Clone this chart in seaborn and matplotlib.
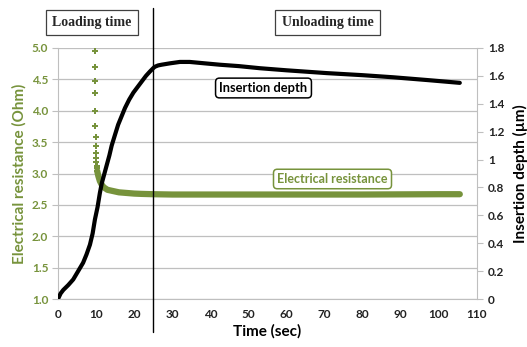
import matplotlib
matplotlib.use("Agg")
import matplotlib.pyplot as plt
import seaborn as sns
import pandas as pd

# Insertion depth (µm) versus time (s)
depth_time = [0, 0.7, 1.4, 2.7, 4.0, 5.3, 6.6, 7.5, 8.4, 9.1, 9.7, 10.4, 11.0, 11.5, 12.0,
              12.8, 13.5, 14.1, 15.0, 15.8, 16.7, 17.6, 18.7, 19.8, 20.9, 22.0, 23.1, 24.1,
              25.0, 25.4, 26.3, 27.2, 29.4, 32, 34.6, 38.5, 42.5, 47.5, 53, 60, 70.5, 80,
              88, 97, 105.5]
depth_um = [0, 0.04, 0.065, 0.10, 0.14, 0.20, 0.26, 0.32, 0.39, 0.47, 0.57, 0.66, 0.76, 0.83, 0.88,
            0.96, 1.03, 1.10, 1.18, 1.25, 1.31, 1.37, 1.43, 1.48, 1.52, 1.56, 1.60, 1.63,
            1.655, 1.665, 1.675, 1.68, 1.69, 1.70, 1.70, 1.69, 1.68, 1.67, 1.655, 1.64, 1.62, 1.605,
            1.59, 1.57, 1.55]

# Electrical resistance (Ohm): sparse early readings
res_pts_time = [9.6, 9.7, 9.75, 9.75, 9.8, 9.85, 9.9, 9.95, 10.0, 10.05, 10.1, 10.15, 10.2, 10.3]
res_pts_ohm = [4.95, 4.69, 4.47, 4.29, 4.00, 3.75, 3.58, 3.44, 3.32, 3.24, 3.18, 3.12, 3.08, 3.04]

# Electrical resistance (Ohm): continuous record
res_time = [10.3, 10.6, 11.0, 11.5, 12.0, 13.0, 14.5, 16, 18, 20, 22, 25, 30, 40, 60, 80, 100, 105.5]
res_ohm = [3.04, 2.96, 2.88, 2.82, 2.78, 2.74, 2.72, 2.70, 2.69, 2.68, 2.675, 2.67, 2.665,
           2.665, 2.665, 2.665, 2.67, 2.67]

x_ticks = list(range(0, 111, 10))
left_ticks = [1.0, 1.5, 2.0, 2.5, 3.0, 3.5, 4.0, 4.5, 5.0]
right_ticks = [0, 0.2, 0.4, 0.6, 0.8, 1, 1.2, 1.4, 1.6, 1.8]
right_labels = ["0", "0.2", "0.4", "0.6", "0.8", "1", "1.2", "1.4", "1.6", "1.8"]

GREEN = "#77933C"
GRID = "#BFBFBF"

sns.set_style("white")
plt.rcParams["font.family"] = ["Lato", "DejaVu Sans"]

fig = plt.figure(figsize=(5.27, 3.47), dpi=100)
ax = fig.add_axes([0.110, 0.1383, 0.795, 0.7234])
ax2 = ax.twinx()

# Resistance on the left axis
ax.set_xlim(0, 110)
ax.set_ylim(1.0, 5.0)
ax.set_yticks(left_ticks)
ax.set_yticklabels([f"{v:.1f}" for v in left_ticks])
ax.set_xticks(x_ticks)
ax.grid(axis="y", color=GRID, lw=0.9)
ax.set_axisbelow(True)

df_res = pd.DataFrame({"t": res_time, "r": res_ohm})
sns.lineplot(data=df_res, x="t", y="r", ax=ax, color=GREEN, lw=4.5, zorder=3)
df_pts = pd.DataFrame({"t": res_pts_time, "r": res_pts_ohm})
sns.scatterplot(data=df_pts, x="t", y="r", ax=ax, marker="P", s=13, color=GREEN,
                edgecolor=GREEN, linewidth=0, zorder=3)

# Depth on the right axis
ax2.set_ylim(0, 1.8)
ax2.set_yticks(right_ticks)
ax2.set_yticklabels(right_labels)
df_dep = pd.DataFrame({"t": depth_time, "d": depth_um})
sns.lineplot(data=df_dep, x="t", y="d", ax=ax2, color="black", lw=3, zorder=4)

for a in (ax, ax2):
    for s in ("top", "left", "right", "bottom"):
        a.spines[s].set_visible(False)
ax.spines["left"].set_visible(True)
ax.spines["left"].set_color(GRID)
ax.spines["bottom"].set_visible(True)
ax.spines["bottom"].set_color(GRID)
ax2.spines["right"].set_visible(True)
ax2.spines["right"].set_color(GRID)

ax.tick_params(axis="x", colors=GRID, length=4, width=0.8, direction="out", labelcolor="#222222",
               labelsize=8.5, pad=3)
ax.tick_params(axis="y", colors=GRID, length=4, width=0.8, direction="out", labelcolor=GREEN,
               labelsize=8.5, pad=3, left=True)
ax2.tick_params(axis="y", colors=GRID, length=4, width=0.8, direction="out", labelcolor="#222222",
                labelsize=8.5, pad=4, right=True)
for lab in ax.get_xticklabels() + ax.get_yticklabels() + ax2.get_yticklabels():
    lab.set_fontweight("bold")

ax.set_xlabel("Time (sec)", fontsize=11, fontweight="bold", color="black", labelpad=3)
ax.set_ylabel("Electrical resistance (Ohm)", fontsize=11, fontweight="bold", color=GREEN, labelpad=4)
ax2.set_ylabel("Insertion depth (µm)", fontsize=11, fontweight="bold", color="black", labelpad=6)

# Boundary between loading and unloading
ax.axvline(25, ymin=-0.131, ymax=1.16, clip_on=False, color="black", lw=1, zorder=5)

# Phase labels
box = dict(boxstyle="square,pad=0.45", fc="white", ec="#404040", lw=0.9)
fig.text(0.1746, 0.935, "Loading time", ha="center", va="center", fontsize=10,
         fontweight="bold", family=["Liberation Serif"], bbox=box)
fig.text(0.6214, 0.935, "Unloading time", ha="center", va="center", fontsize=10,
         fontweight="bold", family=["Liberation Serif"], bbox=box)

# Series labels
fig.text(263.5 / 527, 1 - 88 / 347, "Insertion depth", ha="center", va="center", fontsize=9.3,
         fontweight="bold", color="black",
         bbox=dict(boxstyle="round,pad=0.3,rounding_size=0.3", fc="white", ec="black", lw=1.1))
fig.text(332.5 / 527, 1 - 179 / 347, "Electrical resistance", ha="center", va="center", fontsize=9,
         fontweight="bold", color=GREEN,
         bbox=dict(boxstyle="round,pad=0.3,rounding_size=0.3", fc="white", ec=GREEN, lw=1.1))

fig.savefig("out.png", dpi=100)
